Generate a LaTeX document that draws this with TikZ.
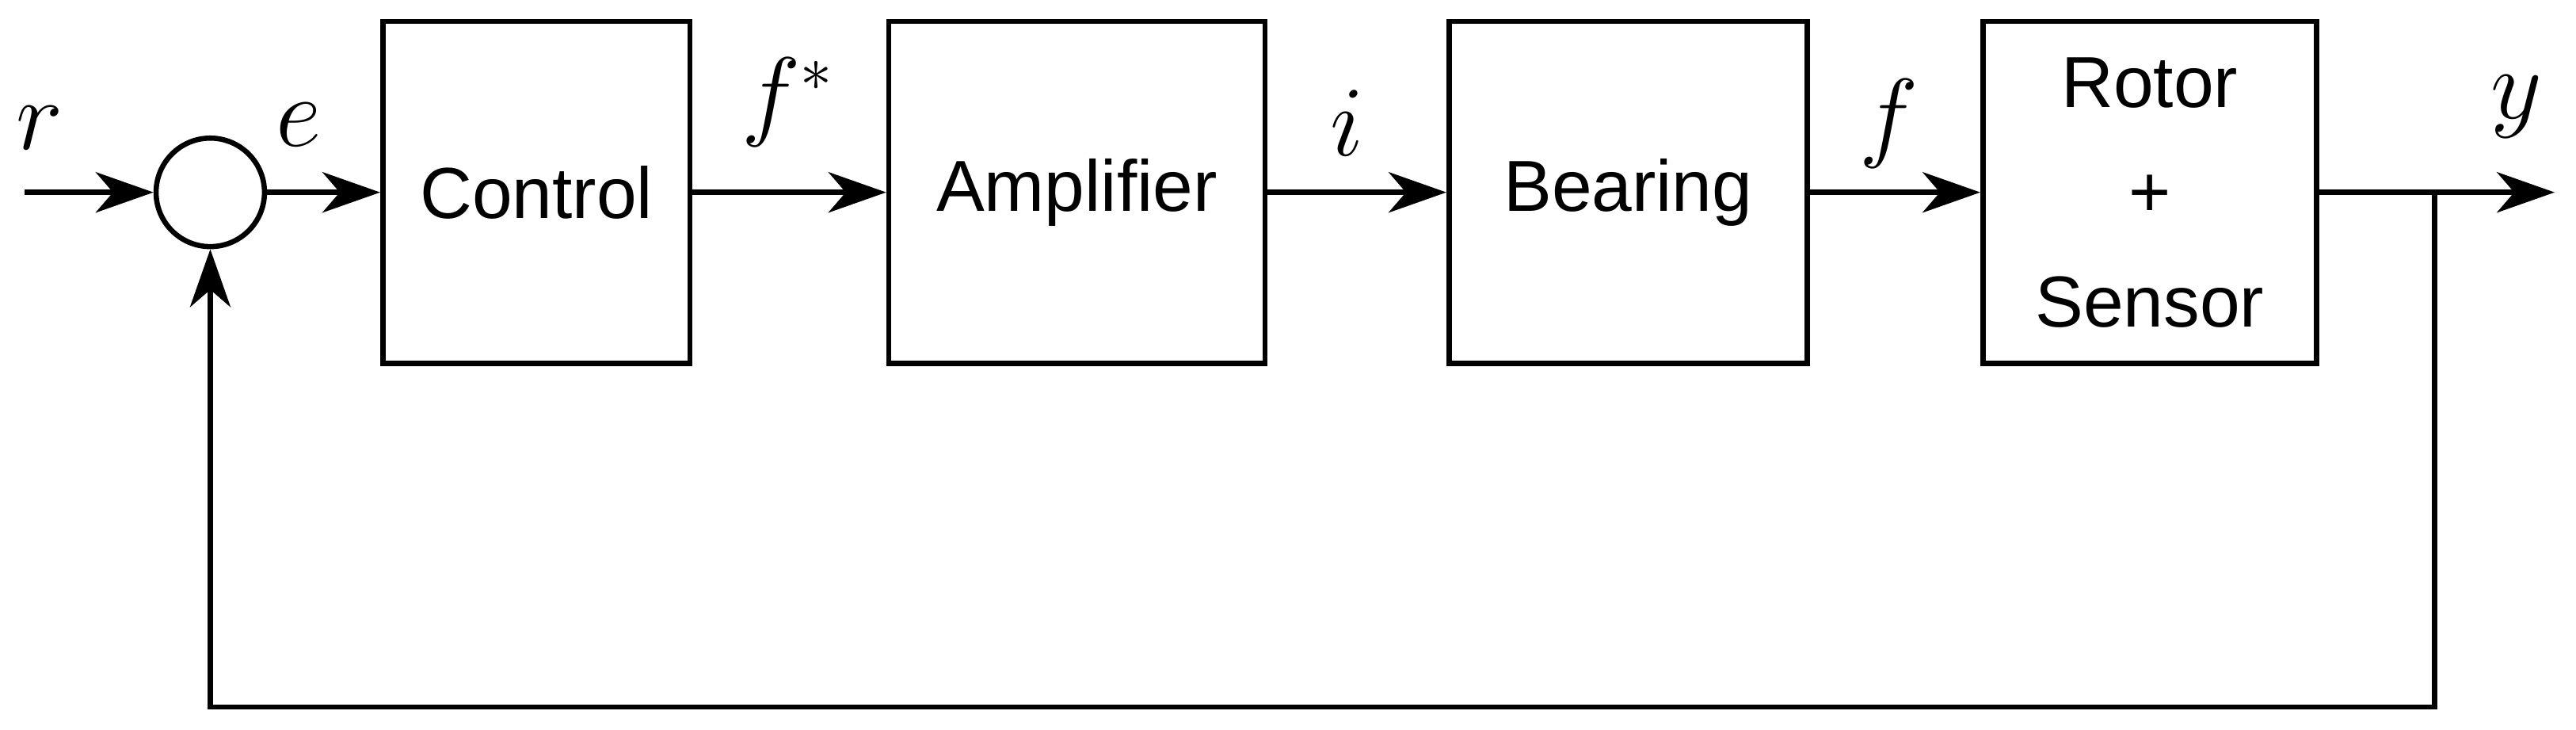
\documentclass[tikz,border=0pt]{standalone}
\usepackage{fontspec}
\setmainfont{Liberation Sans}
\usetikzlibrary{arrows.meta}
\begin{document}
\begin{tikzpicture}[x=0.01cm,y=-0.01cm,line width=0.9pt,
  blk/.style={draw,minimum width=0pt,inner sep=0pt,font=\fontsize{12.5}{15}\selectfont,align=center},
  lbl/.style={font=\fontsize{16}{18}\selectfont},
  arr/.style={-{Stealth[length=10pt,width=7pt,inset=3pt]}}]
\useasboundingbox (0,0) rectangle (1568,444);
\node[blk,minimum width=187*0.01cm,minimum height=208*0.01cm] (c) at (326.5,117) {Control};
\node[blk,minimum width=229*0.01cm,minimum height=208*0.01cm] (a) at (655.5,117) {Amplifier};
\node[blk,minimum width=218*0.01cm,minimum height=208*0.01cm] (b) at (991,117) {Bearing};
\node[blk,minimum width=203*0.01cm,minimum height=208*0.01cm] (s) at (1308.5,117) {Rotor\\[4pt]+\\[4pt]Sensor};
\node[draw,circle,minimum size=66*0.01cm,inner sep=0pt] (sum) at (128,117) {};
\coordinate (in) at (15,117);
\coordinate (out) at (1555,117);
\coordinate (tap) at (1482,117);
\coordinate (bot) at (1482,430);
\coordinate (botl) at (128,430);
\node[lbl] (r) at (24,78) {$r$};
\node[lbl] (e) at (182,76) {$e$};
\node[lbl] (fs) at (480,62) {$f^*$};
\node[lbl] (i) at (820,75) {$i$};
\node[lbl] (f) at (1150,75) {$f$};
\node[lbl] (y) at (1532,65) {$y$};
\draw[arr] (in) -- (sum);
\draw[arr] (sum) -- (c);
\draw[arr] (c) -- (a);
\draw[arr] (a) -- (b);
\draw[arr] (b) -- (s);
\draw[arr] (s) -- (out);
\draw[arr] (tap) -- (bot) -- (botl) -- (sum);
\end{tikzpicture}
\end{document}
